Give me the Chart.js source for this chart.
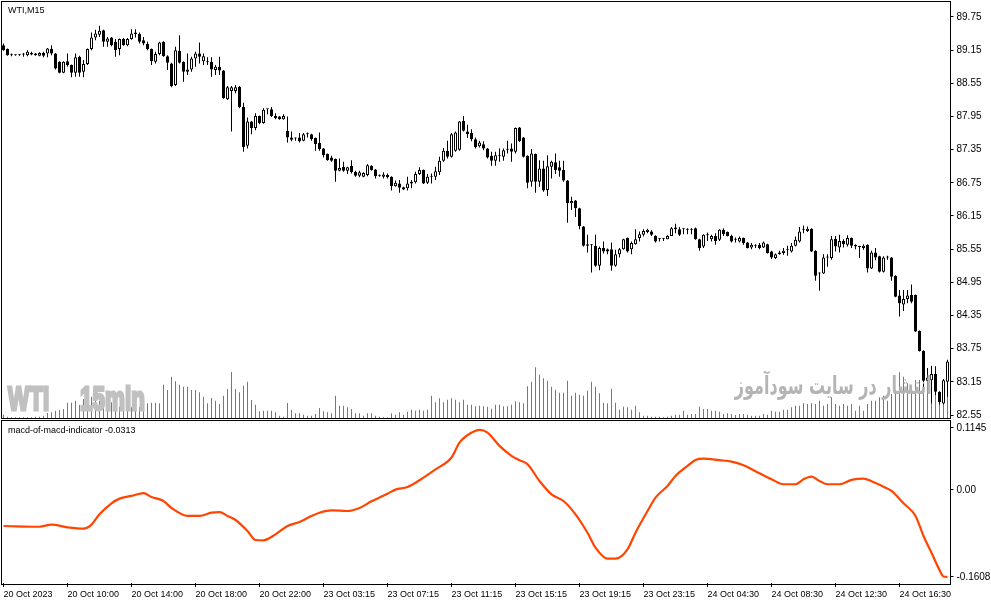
<!DOCTYPE html>
<html lang="en">
<head>
<meta charset="UTF-8">
<title>WTI,M15</title>
<script src="https://cdn.jsdelivr.net/npm/chart.js@4.4.1/dist/chart.umd.min.js"></script>
<style>
    body { margin: 0; background: #fff; width: 991px; height: 605px; overflow: hidden; position: relative; font-family: "Liberation Sans", Arial, sans-serif; }
    canvas { position: absolute; left: 0; z-index: 2; }
    #priceCanvas { top: 0; }
    #macdCanvas { top: 420px; }
    .frame { position: absolute; border: 1px solid #000; box-sizing: border-box; z-index: 4; pointer-events: none; }
    .label { position: absolute; font-size: 9px; line-height: 1; color: #000; z-index: 4; white-space: nowrap; }
    .wm { position: absolute; font-weight: bold; font-size: 34px; line-height: 1; color: #c0c0c0; -webkit-text-stroke: 3px #c0c0c0; transform: scaleX(0.66); transform-origin: left top; z-index: 3; white-space: nowrap; }
    .wmfa { position: absolute; font-family: "DejaVu Sans", sans-serif; font-weight: bold; font-size: 25px; line-height: 1; color: #b4b4b4; transform: scaleX(0.64); transform-origin: right top; z-index: 3; white-space: nowrap; direction: rtl; }
</style>
</head>
<body>
    <div class="frame" style="left:1px; top:1px; width:950px; height:418px;"></div>
    <div class="frame" style="left:1px; top:420px; width:950px; height:165px;"></div>

    <div class="label" style="left:8px; top:6px;">WTI,M15</div>
    <div class="label" style="left:8px; top:426px;">macd-of-macd-indicator -0.0313</div>

    <div class="wm" style="left:8px; top:381px;">WTI</div>
    <div class="wm" style="left:80px; top:381px;">15min</div>
    <div class="wmfa" style="right:59px; top:373px;">انتشار در سایت سودآموز</div>

    <canvas id="priceCanvas" width="991" height="420"></canvas>
    <canvas id="macdCanvas" width="991" height="185"></canvas>

    <script>
        // WTI M15 candles, 20 Oct 2023 06:00 .. 24 Oct 2023 19:30
        const opens = [
            89.24, 89.17, 89.07, 89.06, 89.07, 89.07, 89.06, 89.10, 89.06, 89.05,
            89.10, 89.09, 89.17, 89.09, 88.94, 88.74, 88.95, 88.88, 88.74, 89.03,
            88.76, 88.90, 89.17, 89.38, 89.43, 89.51, 89.30, 89.38, 89.30, 89.17,
            89.35, 89.24, 89.35, 89.44, 89.44, 89.33, 89.26, 89.17, 88.94, 89.08,
            89.30, 89.04, 88.91, 88.52, 89.14, 88.94, 88.76, 88.80, 89.00, 89.09,
            88.95, 88.95, 88.94, 88.79, 88.85, 88.78, 88.26, 88.41, 88.41, 88.49,
            88.12, 87.42, 87.86, 87.74, 87.96, 87.83, 88.08, 88.08, 87.96, 87.95,
            87.90, 87.69, 87.57, 87.55, 87.57, 87.51, 87.63, 87.63, 87.56, 87.47,
            87.37, 87.27, 87.21, 87.18, 86.97, 87.04, 86.97, 87.06, 86.95, 86.88,
            86.86, 86.89, 87.06, 86.99, 86.88, 86.86, 86.89, 86.86, 86.69, 86.74,
            86.67, 86.65, 86.74, 86.76, 86.91, 86.98, 86.75, 86.87, 86.86, 86.94,
            87.15, 87.33, 87.22, 87.33, 87.35, 87.87, 87.68, 87.65, 87.54, 87.41,
            87.45, 87.37, 87.24, 87.15, 87.24, 87.22, 87.36, 87.37, 87.31, 87.75,
            87.57, 87.24, 86.77, 87.27, 86.77, 87.01, 86.62, 87.04, 87.12, 87.03,
            86.98, 86.79, 86.38, 86.43, 86.29, 85.96, 85.64, 85.62, 85.61, 85.25,
            85.57, 85.55, 85.55, 85.25, 85.46, 85.55, 85.75, 85.55, 85.64, 85.75,
            85.81, 85.86, 85.87, 85.79, 85.74, 85.74, 85.73, 85.79, 85.94, 85.91,
            85.91, 85.91, 85.91, 85.93, 85.73, 85.60, 85.81, 85.73, 85.79, 85.72,
            85.90, 85.86, 85.79, 85.72, 85.69, 85.75, 85.67, 85.58, 85.61, 85.63,
            85.58, 85.64, 85.51, 85.39, 85.49, 85.48, 85.53, 85.51, 85.61, 85.69,
            85.90, 85.88, 85.92, 85.52, 85.12, 85.11, 85.40, 85.39, 85.74, 85.58,
            85.70, 85.63, 85.75, 85.63, 85.60, 85.57, 85.63, 85.20, 85.49, 85.42,
            85.14, 85.40, 85.40, 85.07, 84.71, 84.55, 84.65, 84.72, 84.72, 84.07,
            83.71, 83.17, 83.18, 83.29, 82.97, 82.76, 83.15
        ];
        const highs = [
            89.27, 89.18, 89.09, 89.07, 89.08, 89.10, 89.15, 89.12, 89.10, 89.11,
            89.12, 89.19, 89.24, 89.10, 88.95, 88.95, 89.09, 88.89, 89.09, 89.05,
            88.97, 89.18, 89.47, 89.52, 89.59, 89.52, 89.39, 89.39, 89.35, 89.36,
            89.37, 89.37, 89.53, 89.53, 89.47, 89.39, 89.30, 89.18, 89.12, 89.30,
            89.31, 89.06, 88.92, 89.21, 89.42, 88.95, 89.09, 89.03, 89.12, 89.29,
            89.09, 89.02, 89.02, 88.88, 89.03, 88.79, 88.50, 88.50, 88.52, 88.50,
            88.20, 87.93, 87.87, 88.01, 87.97, 88.10, 88.09, 88.12, 88.01, 87.96,
            87.99, 87.95, 87.68, 87.57, 87.65, 87.65, 87.66, 87.64, 87.57, 87.66,
            87.38, 87.28, 87.24, 87.19, 87.19, 87.13, 87.04, 87.16, 86.97, 86.97,
            86.94, 87.09, 87.07, 87.00, 86.90, 86.94, 86.92, 86.87, 86.79, 86.80,
            86.68, 86.86, 86.80, 86.95, 87.03, 86.99, 86.91, 86.92, 87.04, 87.22,
            87.38, 87.51, 87.65, 87.68, 87.87, 87.96, 87.80, 87.72, 87.57, 87.51,
            87.50, 87.38, 87.31, 87.31, 87.37, 87.37, 87.51, 87.46, 87.75, 87.76,
            87.58, 87.25, 87.36, 87.28, 87.16, 87.15, 87.25, 87.15, 87.28, 87.15,
            87.15, 86.80, 86.50, 86.44, 86.30, 85.97, 85.81, 85.64, 85.81, 85.60,
            85.69, 85.56, 85.67, 85.54, 85.57, 85.74, 85.76, 85.69, 85.91, 85.87,
            85.91, 85.92, 85.89, 85.80, 85.75, 85.75, 85.80, 85.95, 86.01, 85.95,
            85.93, 85.93, 85.93, 85.94, 85.74, 85.82, 85.85, 85.81, 85.84, 85.91,
            85.93, 85.87, 85.81, 85.76, 85.78, 85.76, 85.68, 85.66, 85.64, 85.66,
            85.69, 85.65, 85.52, 85.47, 85.52, 85.57, 85.61, 85.66, 85.78, 85.95,
            85.98, 85.96, 85.93, 85.53, 85.13, 85.46, 85.46, 85.79, 85.79, 85.81,
            85.73, 85.80, 85.76, 85.64, 85.61, 85.64, 85.64, 85.52, 85.57, 85.43,
            85.42, 85.43, 85.41, 85.08, 84.81, 84.81, 84.81, 84.91, 84.73, 84.08,
            83.72, 83.40, 83.44, 83.43, 82.98, 83.20, 83.55
        ];
        const lows = [
            89.14, 89.05, 89.04, 89.05, 89.05, 89.03, 89.04, 89.06, 89.05, 89.04,
            89.02, 89.02, 89.06, 88.80, 88.73, 88.73, 88.85, 88.66, 88.67, 88.67,
            88.66, 88.88, 89.15, 89.33, 89.39, 89.21, 89.21, 89.22, 89.03, 89.06,
            89.23, 89.22, 89.34, 89.38, 89.27, 89.24, 89.15, 88.88, 88.91, 89.06,
            89.03, 88.79, 88.48, 88.50, 88.91, 88.58, 88.70, 88.76, 88.85, 88.91,
            88.88, 88.88, 88.67, 88.70, 88.70, 88.27, 88.25, 87.68, 88.37, 88.10,
            87.31, 87.37, 87.63, 87.70, 87.81, 87.82, 87.99, 87.94, 87.90, 87.89,
            87.89, 87.48, 87.50, 87.51, 87.48, 87.50, 87.57, 87.51, 87.33, 87.33,
            87.21, 87.15, 87.13, 86.77, 86.96, 86.95, 86.91, 86.92, 86.86, 86.85,
            86.85, 86.87, 86.97, 86.83, 86.86, 86.83, 86.83, 86.61, 86.68, 86.57,
            86.62, 86.61, 86.65, 86.74, 86.89, 86.73, 86.73, 86.74, 86.80, 86.89,
            87.13, 87.19, 87.21, 87.31, 87.33, 87.68, 87.56, 87.50, 87.37, 87.39,
            87.34, 87.19, 87.06, 87.06, 87.13, 87.15, 87.28, 87.13, 87.28, 87.49,
            87.21, 86.65, 86.68, 86.57, 86.68, 86.59, 86.51, 86.83, 86.91, 86.86,
            86.77, 86.03, 86.26, 86.13, 85.91, 85.60, 85.49, 85.13, 85.23, 85.17,
            85.47, 85.46, 85.16, 85.23, 85.40, 85.54, 85.49, 85.46, 85.63, 85.69,
            85.78, 85.84, 85.79, 85.67, 85.69, 85.70, 85.73, 85.79, 85.84, 85.79,
            85.82, 85.82, 85.82, 85.72, 85.52, 85.57, 85.70, 85.69, 85.63, 85.70,
            85.79, 85.78, 85.67, 85.67, 85.67, 85.63, 85.56, 85.55, 85.57, 85.55,
            85.57, 85.47, 85.37, 85.37, 85.45, 85.45, 85.43, 85.49, 85.60, 85.67,
            85.84, 85.86, 85.50, 84.98, 84.80, 85.10, 85.23, 85.36, 85.51, 85.49,
            85.58, 85.60, 85.57, 85.55, 85.39, 85.54, 85.13, 85.19, 85.35, 85.13,
            85.13, 85.36, 84.98, 84.68, 84.33, 84.43, 84.57, 84.57, 84.05, 83.70,
            83.05, 83.16, 82.76, 82.91, 82.74, 82.74, 82.88
        ];
        const closes = [
            89.15, 89.06, 89.06, 89.06, 89.06, 89.07, 89.12, 89.07, 89.09, 89.10,
            89.05, 89.18, 89.09, 88.82, 88.74, 88.94, 88.88, 88.74, 89.02, 88.74,
            88.90, 89.17, 89.38, 89.45, 89.50, 89.30, 89.36, 89.24, 89.15, 89.35,
            89.24, 89.35, 89.45, 89.47, 89.30, 89.27, 89.17, 88.95, 89.08, 89.29,
            89.04, 88.92, 88.50, 89.15, 88.92, 88.76, 88.80, 89.00, 89.09, 89.03,
            89.04, 88.93, 88.80, 88.85, 88.78, 88.28, 88.48, 88.48, 88.48, 88.12,
            87.40, 87.86, 87.74, 87.96, 87.83, 88.07, 88.08, 87.96, 87.92, 87.90,
            87.96, 87.57, 87.53, 87.55, 87.50, 87.63, 87.63, 87.54, 87.45, 87.36,
            87.25, 87.16, 87.15, 86.97, 87.02, 86.97, 87.03, 86.94, 86.88, 86.94,
            86.93, 87.07, 86.98, 86.87, 86.88, 86.90, 86.85, 86.69, 86.75, 86.66,
            86.63, 86.74, 86.77, 86.91, 86.98, 86.74, 86.86, 86.86, 86.96, 87.15,
            87.33, 87.22, 87.63, 87.66, 87.86, 87.69, 87.63, 87.54, 87.40, 87.48,
            87.37, 87.21, 87.15, 87.25, 87.24, 87.34, 87.35, 87.31, 87.74, 87.50,
            87.22, 86.75, 87.28, 86.77, 87.01, 86.61, 87.05, 87.13, 86.98, 86.97,
            86.79, 86.38, 86.42, 86.29, 85.97, 85.61, 85.61, 85.62, 85.25, 85.57,
            85.51, 85.51, 85.25, 85.46, 85.55, 85.73, 85.51, 85.66, 85.73, 85.82,
            85.88, 85.90, 85.81, 85.69, 85.74, 85.74, 85.79, 85.93, 85.91, 85.81,
            85.91, 85.90, 85.90, 85.73, 85.57, 85.81, 85.81, 85.79, 85.70, 85.90,
            85.82, 85.79, 85.69, 85.72, 85.75, 85.66, 85.57, 85.63, 85.61, 85.57,
            85.67, 85.48, 85.40, 85.46, 85.46, 85.52, 85.53, 85.61, 85.72, 85.87,
            85.90, 85.92, 85.51, 85.07, 85.11, 85.40, 85.40, 85.73, 85.60, 85.70,
            85.64, 85.75, 85.61, 85.60, 85.59, 85.61, 85.20, 85.49, 85.40, 85.14,
            85.40, 85.40, 85.05, 84.69, 84.57, 84.65, 84.71, 84.60, 84.06, 83.71,
            83.17, 83.23, 83.29, 82.97, 82.78, 83.18, 83.52
        ];
        const volumes = [
            100, 40, 20, 20, 20, 20, 20, 20, 40, 40,
            70, 150, 170, 220, 240, 270, 460, 460, 520, 390,
            570, 640, 640, 540, 520, 440, 520, 470, 450, 340,
            340, 400, 320, 340, 320, 400, 440, 460, 460, 440,
            1000, 840, 1240, 1100, 1000, 940, 940, 840, 840, 770,
            640, 440, 600, 520, 420, 670, 870, 1380, 870, 770,
            970, 1090, 540, 400, 200, 220, 220, 220, 170, 70,
            40, 450, 240, 140, 140, 100, 70, 70, 120, 300,
            200, 170, 140, 670, 370, 370, 320, 270, 140, 140,
            70, 140, 140, 70, 40, 20, 20, 140, 100, 170,
            100, 190, 250, 220, 250, 220, 250, 670, 470, 590,
            470, 550, 590, 550, 470, 550, 400, 400, 350, 370,
            350, 340, 280, 400, 400, 350, 350, 400, 500, 470,
            440, 950, 1090, 1520, 1300, 1190, 1120, 940, 850, 760,
            760, 1120, 670, 760, 700, 670, 820, 1090, 940, 740,
            460, 440, 880, 460, 250, 340, 320, 250, 370, 170,
            70, 70, 40, 40, 40, 20, 40, 70, 100, 100,
            220, 100, 120, 120, 340, 270, 270, 220, 220, 190,
            120, 140, 120, 90, 120, 120, 100, 70, 70, 70,
            120, 100, 220, 190, 190, 250, 240, 320, 370, 370,
            440, 420, 440, 420, 520, 370, 420, 620, 420, 370,
            420, 370, 420, 220, 370, 220, 420, 520, 520, 620,
            670, 520, 720, 840, 1370, 1240, 1040, 970, 1140, 1140,
            1020, 1270, 1140, 1020, 640, 1120, 720
        ];

        // indicator readings: bar index and value
        const macdIdx = [
            0, 9, 12, 16, 20, 22, 24, 27, 29, 32, 35, 37, 40, 42, 46, 49, 52, 54, 56, 58,
            61, 63, 65, 68, 71, 74, 77, 79, 82, 86, 89, 92, 96, 98, 101, 104, 108, 112, 114, 117,
            119, 121, 124, 127, 129, 131, 134, 137, 140, 143, 146, 148, 151, 153, 156, 158, 161, 163, 166, 168,
            171, 173, 175, 179, 182, 185, 189, 192, 195, 198, 200, 202, 204, 206, 209, 212, 215, 217, 220, 222,
            225, 228, 230, 232, 234, 235, 236
        ];
        const macdVal = [
            -0.0666, -0.068, -0.064, -0.069, -0.0715, -0.064, -0.045, -0.0246, -0.016, -0.011,
            -0.006, -0.013, -0.0204, -0.0333, -0.048, -0.048, -0.042, -0.041, -0.048, -0.0555,
            -0.0758, -0.0925, -0.093, -0.082, -0.0666, -0.059, -0.048, -0.042, -0.0376, -0.0389,
            -0.0333, -0.021, -0.0068, 0.0006, 0.0055, 0.018, 0.038, 0.060, 0.0875, 0.106,
            0.111, 0.106, 0.0814, 0.063, 0.055, 0.0475, 0.0166, -0.008, -0.0204, -0.045,
            -0.079, -0.1066, -0.127, -0.127, -0.1097, -0.079, -0.0389, -0.0142, 0.0074, 0.0259,
            0.0444, 0.0555, 0.058, 0.055, 0.0524, 0.0456, 0.0308, 0.0198, 0.0105, 0.0105,
            0.0198, 0.0246, 0.0166, 0.0105, 0.0105, 0.0185, 0.021, 0.016, 0.006, -0.0018,
            -0.0246, -0.048, -0.085, -0.116, -0.148, -0.160, -0.1608
        ];

        const tickLabels = [
            '20 Oct 2023', '20 Oct 10:00', '20 Oct 14:00', '20 Oct 18:00', '20 Oct 22:00',
            '23 Oct 03:15', '23 Oct 07:15', '23 Oct 11:15', '23 Oct 15:15', '23 Oct 19:15',
            '23 Oct 23:15', '24 Oct 04:30', '24 Oct 08:30', '24 Oct 12:30', '24 Oct 16:30'
        ];
        const priceTicks = [82.55, 83.15, 83.75, 84.35, 84.95, 85.55, 86.15, 86.75, 87.35, 87.95, 88.55, 89.15, 89.75];
        const macdTicks = [0.1145, 0, -0.1608];
        const macdTickText = ['0.1145', '0.00', '-0.1608'];

        // build library data
        const bars = opens.map((o, i) => i);
        const wicks = bars.map(i => [lows[i], highs[i]]);
        const bodies = bars.map(i => [Math.min(opens[i], closes[i]), Math.max(opens[i], closes[i])]);
        const bodyFill = bars.map(i => closes[i] < opens[i] ? '#000' : '#fff');
        const macdLine = bars.map(() => null);
        macdIdx.forEach((b, k) => { macdLine[b] = macdVal[k]; });

        Chart.defaults.font.family = '"Liberation Sans", Arial, sans-serif';
        Chart.defaults.color = '#000';

        const tickGrid = { display: true, drawOnChartArea: false, drawTicks: true, tickLength: 4, color: '#000', offset: false };
        // ungrouped bars take min(maxBarThickness, category width); no edge inflation
        const thin = { grouped: false, categoryPercentage: 1, barPercentage: 1, inflateAmount: 0 };
        // keep the plot edges fixed: no extra room for the end labels
        const noPad = s => { s.paddingTop = 0; s.paddingBottom = 0; s.paddingLeft = 0; s.paddingRight = 0; };

        new Chart(document.getElementById('priceCanvas'), {
            type: 'bar',
            data: {
                labels: bars,
                datasets: [
                    Object.assign({
                        data: bodies, backgroundColor: bodyFill, borderColor: '#000', borderWidth: 1,
                        borderSkipped: false, maxBarThickness: 3, minBarLength: 1, order: 0
                    }, thin),
                    Object.assign({
                        data: wicks, backgroundColor: '#000', borderWidth: 0,
                        maxBarThickness: 1, minBarLength: 1, order: 1
                    }, thin),
                    Object.assign({
                        data: volumes, yAxisID: 'yv', backgroundColor: '#22b422', borderWidth: 0,
                        maxBarThickness: 1, order: 2
                    }, thin)
                ]
            },
            options: {
                responsive: false,
                animation: false,
                events: [],
                layout: { autoPadding: false, padding: { left: 1.5, top: 2, bottom: 2, right: 0 } },
                plugins: { legend: { display: false }, tooltip: { enabled: false } },
                scales: {
                    x: { display: false, offset: true },
                    y: {
                        position: 'right', min: 82.496, max: 90.021, beginAtZero: false,
                        afterBuildTicks: s => { s.ticks = priceTicks.map(v => ({ value: v })); },
                        afterFit: s => { s.width = 41.5; noPad(s); },
                        ticks: { callback: v => v.toFixed(2), font: { size: 10 }, color: '#000', padding: 3 },
                        grid: tickGrid,
                        border: { display: false }
                    },
                    yv: { display: false, min: 0, max: 12480 }
                }
            }
        });

        new Chart(document.getElementById('macdCanvas'), {
            type: 'line',
            data: {
                labels: bars,
                datasets: [{
                    data: macdLine, borderColor: '#ff4500', borderWidth: 2.2, pointRadius: 0,
                    spanGaps: true, cubicInterpolationMode: 'monotone', fill: false
                }]
            },
            options: {
                responsive: false,
                animation: false,
                events: [],
                layout: { autoPadding: false, padding: { left: 1.5, top: 1, bottom: 0, right: 0 } },
                plugins: { legend: { display: false }, tooltip: { enabled: false } },
                scales: {
                    x: {
                        offset: true,
                        afterBuildTicks: s => { s.ticks = s.ticks.filter(t => t.value % 16 === 0); },
                        afterFit: s => { s.height = 22; noPad(s); },
                        ticks: {
                            autoSkip: false, maxRotation: 0, align: 'start', padding: 2,
                            font: { size: 9 }, color: '#000',
                            callback: v => tickLabels[v / 16]
                        },
                        grid: tickGrid,
                        border: { display: false }
                    },
                    y: {
                        position: 'right', min: -0.1719, max: 0.1274,
                        afterBuildTicks: s => { s.ticks = macdTicks.map(v => ({ value: v })); },
                        afterFit: s => { s.width = 41.5; noPad(s); },
                        ticks: {
                            callback: v => macdTickText[macdTicks.indexOf(v)],
                            font: { size: 10 }, color: '#000', padding: 3
                        },
                        grid: tickGrid,
                        border: { display: false }
                    }
                }
            }
        });
    </script>
</body>
</html>
